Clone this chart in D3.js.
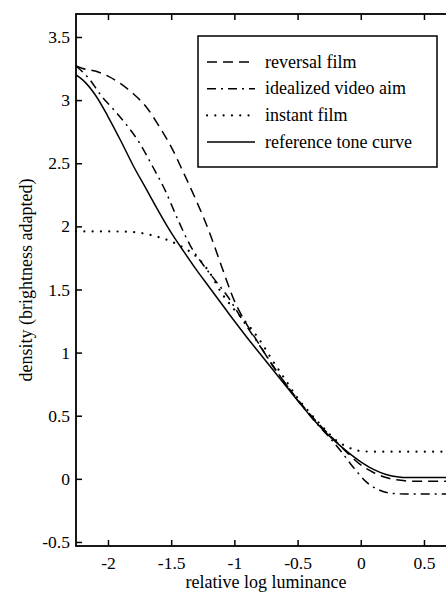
<!DOCTYPE html>
<html>
<head>
<meta charset="utf-8">
<script src="https://cdn.jsdelivr.net/npm/d3@7"></script>
<style>
  html, body { margin: 0; padding: 0; background: #fff; }
  svg { display: block; }
  svg text { font-family: "Liberation Serif", "Times New Roman", Times, "DejaVu Serif", serif !important; fill: #000; }
</style>
</head>
<body>
<div id="chart"></div>
<script>
// 曲线数据 [相对对数亮度, 密度]
const reversalFilm = [
  [-2.253, 3.27], [-2.2, 3.25], [-2.1, 3.23], [-2.0, 3.19], [-1.9, 3.13],
  [-1.8, 3.05], [-1.7, 2.95], [-1.6, 2.80], [-1.5, 2.63], [-1.4, 2.42],
  [-1.3, 2.20], [-1.2, 1.96], [-1.1, 1.68], [-1.0, 1.41], [-0.9, 1.22],
  [-0.8, 1.06], [-0.7, 0.90], [-0.6, 0.76], [-0.5, 0.63], [-0.4, 0.51],
  [-0.3, 0.40], [-0.2, 0.30], [-0.1, 0.20], [0.0, 0.11], [0.1, 0.05],
  [0.2, 0.01], [0.3, -0.01], [0.4, -0.02], [0.8, -0.02]
];
const videoAim = [
  [-2.253, 3.27], [-2.15, 3.17], [-2.05, 3.03], [-1.95, 2.92], [-1.85, 2.80],
  [-1.75, 2.66], [-1.65, 2.48], [-1.55, 2.29], [-1.45, 2.06], [-1.35, 1.85],
  [-1.25, 1.70], [-1.15, 1.57], [-1.05, 1.44], [-0.95, 1.28], [-0.85, 1.13],
  [-0.75, 0.98], [-0.65, 0.83], [-0.55, 0.69], [-0.45, 0.56], [-0.35, 0.44],
  [-0.25, 0.33], [-0.15, 0.21], [-0.05, 0.08], [0.05, -0.03], [0.15, -0.09],
  [0.25, -0.115], [0.35, -0.12], [0.8, -0.12]
];
const instantFilm = [
  [-2.253, 1.96], [-2.0, 1.96], [-1.8, 1.955], [-1.7, 1.94], [-1.6, 1.915],
  [-1.5, 1.88], [-1.4, 1.83], [-1.3, 1.76], [-1.2, 1.64], [-1.1, 1.47],
  [-1.0, 1.34], [-0.9, 1.23], [-0.8, 1.10], [-0.7, 0.94], [-0.6, 0.79],
  [-0.5, 0.64], [-0.4, 0.52], [-0.3, 0.41], [-0.2, 0.31], [-0.1, 0.25],
  [0.0, 0.22], [0.1, 0.215], [0.8, 0.215]
];
const referenceTone = [
  [-2.253, 3.20], [-2.2, 3.16], [-2.1, 3.04], [-2.0, 2.87], [-1.9, 2.68],
  [-1.8, 2.48], [-1.7, 2.30], [-1.6, 2.12], [-1.5, 1.95], [-1.4, 1.80],
  [-1.3, 1.655], [-1.2, 1.52], [-1.1, 1.385], [-1.0, 1.25], [-0.9, 1.12],
  [-0.8, 0.995], [-0.7, 0.87], [-0.6, 0.745], [-0.5, 0.62], [-0.4, 0.50],
  [-0.3, 0.39], [-0.2, 0.295], [-0.1, 0.21], [0.0, 0.135], [0.1, 0.075],
  [0.2, 0.035], [0.3, 0.015], [0.36, 0.01], [0.8, 0.01]
];

// 刻度与图例
const xTicks = [-2, -1.5, -1, -0.5, 0, 0.5];
const yTicks = [-0.5, 0, 0.5, 1, 1.5, 2, 2.5, 3, 3.5];
const legendLabels = ["reversal film", "idealized video aim", "instant film", "reference tone curve"];

const width = 446, height = 593;
const serif = '"Liberation Serif", "Times New Roman", Times, serif';
const styles = [
  { data: reversalFilm, dash: "10,6", cap: "butt", w: 1.5 },
  { data: videoAim, dash: "9,5,2,5", cap: "butt", w: 1.5 },
  { data: instantFilm, dash: "0.01,8.3", cap: "round", w: 2.2 },
  { data: referenceTone, dash: null, cap: "butt", w: 1.5 }
];

const svg = d3.select("#chart")
  .append("svg")
  .attr("width", width)
  .attr("height", height)
  .attr("font-family", serif);

// 坐标比例尺（右侧超出画布被裁掉）
const x = d3.scaleLinear().domain([-2.253, 0.76]).range([76, 76 + 3.013 * 126.4]);
const y = d3.scaleLinear().domain([-0.532, 3.682]).range([546, 14]);

// 曲线
const line = d3.line()
  .x(d => x(d[0]))
  .y(d => y(d[1]))
  .curve(d3.curveMonotoneX);

svg.append("g")
  .selectAll("path")
  .data(styles)
  .join("path")
  .attr("d", d => line(d.data))
  .attr("fill", "none")
  .attr("stroke", "#000")
  .attr("stroke-width", d => d.w)
  .attr("stroke-linecap", d => d.cap)
  .attr("stroke-dasharray", d => d.dash);

// 坐标轴（刻度朝内）
const fmt = d => String(d);

const xAxis = svg.append("g")
  .attr("transform", `translate(0,${y.range()[0]})`)
  .call(d3.axisBottom(x).tickValues(xTicks).tickFormat(fmt).tickSize(-6).tickPadding(11));

const xTop = svg.append("g")
  .attr("transform", `translate(0,${y.range()[1]})`)
  .call(d3.axisTop(x).tickValues(xTicks).tickFormat("").tickSize(-6));

const yAxis = svg.append("g")
  .attr("transform", `translate(${x.range()[0]},0)`)
  .call(d3.axisLeft(y).tickValues(yTicks).tickFormat(fmt).tickSize(-6).tickPadding(6));

[xAxis, xTop, yAxis].forEach(g => {
  g.attr("font-family", serif).attr("font-size", 17.5);
  g.select(".domain").remove();
  g.selectAll(".tick line").attr("stroke", "#000").attr("stroke-width", 1.5);
  g.selectAll(".tick text").attr("fill", "#000");
});

// 边框
svg.append("rect")
  .attr("x", x.range()[0])
  .attr("y", y.range()[1])
  .attr("width", x.range()[1] - x.range()[0])
  .attr("height", y.range()[0] - y.range()[1])
  .attr("fill", "none")
  .attr("stroke", "#000")
  .attr("stroke-width", 1.8);

// 轴标题
svg.append("text")
  .attr("x", 266)
  .attr("y", 588)
  .attr("text-anchor", "middle")
  .attr("font-size", 18)
  .text("relative log luminance");

svg.append("text")
  .attr("transform", "translate(32,280) rotate(-90)")
  .attr("text-anchor", "middle")
  .attr("font-size", 18)
  .text("density (brightness adapted)");

// 图例
const legend = svg.append("g");
legend.append("rect")
  .attr("x", 198)
  .attr("y", 36)
  .attr("width", 239)
  .attr("height", 131)
  .attr("fill", "#fff")
  .attr("stroke", "#000")
  .attr("stroke-width", 1.5);

const item = legend.selectAll("g.item")
  .data(styles)
  .join("g")
  .attr("class", "item")
  .attr("transform", (d, i) => `translate(0,${62 + i * 26.7})`);

item.append("line")
  .attr("x1", 207)
  .attr("x2", 255)
  .attr("stroke", "#000")
  .attr("stroke-width", d => d.w)
  .attr("stroke-linecap", d => d.cap)
  .attr("stroke-dasharray", d => d.dash);

item.append("text")
  .attr("x", 265)
  .attr("y", 5.5)
  .attr("font-size", 18)
  .text((d, i) => legendLabels[i]);
</script>
</body>
</html>
